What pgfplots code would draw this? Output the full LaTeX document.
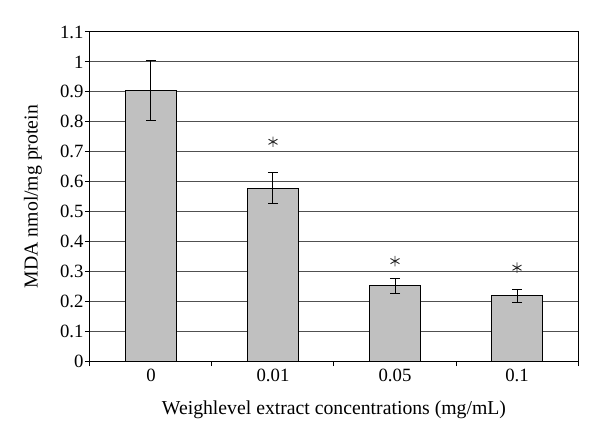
\documentclass[border=0pt]{standalone}
\usepackage{fontspec}
\setmainfont{Liberation Serif}
\usepackage{pgfplots}
\pgfplotsset{compat=1.18}
\definecolor{barfill}{HTML}{C0C0C0}
\definecolor{gridc}{HTML}{505050}
\begin{document}
\begin{tikzpicture}
\path[use as bounding box] (-90bp,-79bp) rectangle (510bp,361bp);
\begin{axis}[
  at={(0,0)}, anchor=south west,
  scale only axis, width=488bp, height=329bp,
  xmin=-0.5, xmax=3.5, ymin=0, ymax=1.1,
  axis line style={black, line width=1bp},
  /pgf/number format/assume math mode=true,
  ytick={0,0.1,0.2,0.3,0.4,0.5,0.6,0.7,0.8,0.9,1,1.1},
  yticklabels={0,0.1,0.2,0.3,0.4,0.5,0.6,0.7,0.8,0.9,1,1.1},
  xtick={0,1,2,3}, xticklabels={0,0.01,0.05,0.1},
  minor xtick={-0.5,0.5,1.5,2.5,3.5},
  major x tick style={draw=none},
  xtick pos=bottom, ytick pos=left,
  tick align=outside, major tick length=5bp, minor tick length=5bp,
  tick style={black, line width=1bp},
  ymajorgrids, major grid style={gridc, line width=1bp},
  tick label style={font=\fontsize{18.8}{20}\selectfont},
  label style={font=\fontsize{19.8}{22}\selectfont},
  yticklabel style={xshift=2bp},
  xlabel={Weighlevel extract concentrations (mg/mL)},
  ylabel={MDA nmol/mg protein},
  xlabel style={at={(axis description cs:0.5,-0.148)}, anchor=center},
  ylabel style={at={(axis description cs:-0.117,0.5)}, anchor=center},
]
\addplot[ybar, bar width=51bp, fill=barfill, draw=black, line width=1bp,
  error bars/.cd, y dir=both, y explicit,
  error bar style={black, line width=1bp},
  error mark options={rotate=90, mark size=5bp, black, line width=1bp}]
  coordinates {(0,0.905) +- (0,0.100) (1,0.578) +- (0,0.052) (2,0.251) +- (0,0.025) (3,0.218) +- (0,0.022)};
\addplot[only marks, mark=asterisk, mark size=5.2bp, mark options={gray!30!black, line width=0.9bp}]
  coordinates {(1,0.733) (2,0.334) (3,0.312)};
\end{axis}
\end{tikzpicture}
\end{document}
